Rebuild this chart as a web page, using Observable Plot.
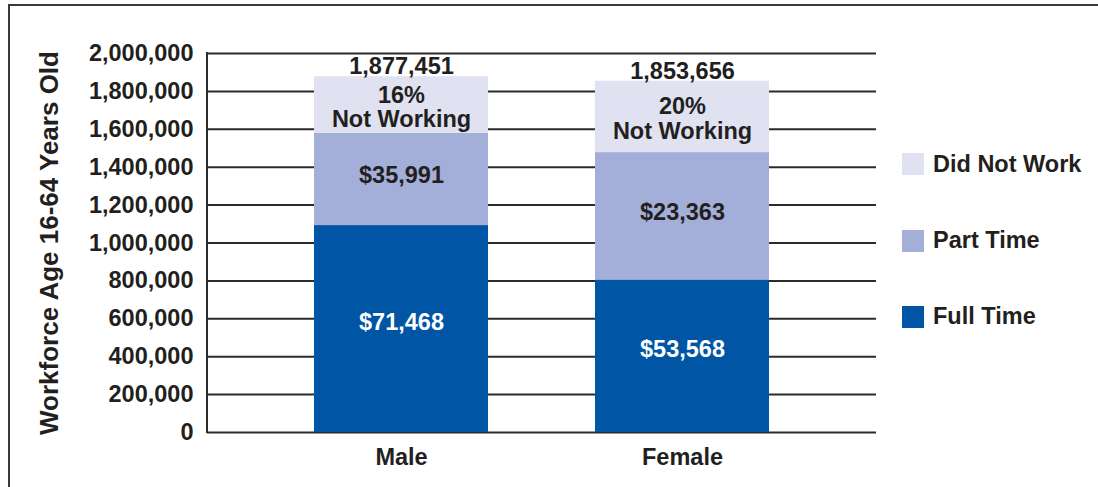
<!DOCTYPE html>
<html>
<head>
<meta charset="utf-8">
<script src="https://cdn.jsdelivr.net/npm/d3@7"></script>
<script src="https://cdn.jsdelivr.net/npm/@observablehq/plot@0.6"></script>
<style>
  html, body { margin: 0; padding: 0; background: #fff; }
  #wrap { position: relative; width: 1098px; height: 487px; overflow: hidden; font-family: "Liberation Sans", Arial, sans-serif; }
  #chart { position: absolute; left: 0; top: 0; }
  #frame { position: absolute; left: 8px; top: 4px; right: -10px; bottom: -10px; border-top: 2px solid #3a3a3a; border-left: 2px solid #3a3a3a; pointer-events: none; }
  .leg { position: absolute; left: 902px; height: 22px; display: flex; align-items: center; font-weight: bold; font-size: 23.5px; color: #231f20; white-space: nowrap; }
  .leg .sw { width: 22px; height: 22px; margin-right: 9px; }
</style>
</head>
<body>
<div id="wrap">
  <div id="chart"></div>
  <div id="frame"></div>
</div>
<script>
// ---- data ----
const categories = ["Male", "Female"];
const series = ["Full Time", "Part Time", "Did Not Work"];
const fullTime = [1092000, 805000];
const partTime = [487000, 672000];
const didNotWork = [298451, 376656];
const totals = [1877451, 1853656];
const pctNotWorking = ["16%", "20%"];
const earningsFull = ["$71,468", "$53,568"];
const earningsPart = ["$35,991", "$23,363"];
const yTicks = [0, 200000, 400000, 600000, 800000, 1000000, 1200000, 1400000, 1600000, 1800000, 2000000];
const colors = ["#0055A4", "#A3AFD8", "#E0E2F2"];
const yTitle = "Workforce Age 16-64 Years Old";

// ---- derived tables ----
const seriesValues = [fullTime, partTime, didNotWork];
const rows = [];
categories.forEach((c, i) => series.forEach((s, j) => rows.push({cat: c, series: s, value: seriesValues[j][i]})));
const labelRows = categories.map((c, i) => ({
  cat: c,
  total: totals[i],
  fullMid: fullTime[i] / 2,
  partMid: fullTime[i] + partTime[i] / 2,
  dnwMid: fullTime[i] + partTime[i] + didNotWork[i] / 2,
  full: earningsFull[i],
  part: earningsPart[i],
  dnw: pctNotWorking[i] + "\nNot Working"
}));

const font = "'Liberation Sans', Arial, sans-serif";
const dark = "#231f20";
const fs = 23.5;

const axisLine = (index, scales, values, dimensions) => {
  const line = document.createElementNS("http://www.w3.org/2000/svg", "line");
  const x = dimensions.marginLeft;
  line.setAttribute("x1", x); line.setAttribute("x2", x);
  line.setAttribute("y1", scales.y(yTicks[yTicks.length - 1]) - 1);
  line.setAttribute("y2", scales.y(0) + 1);
  line.setAttribute("stroke", "#2b2b2b");
  line.setAttribute("stroke-width", 2);
  return line;
};

const plot = Plot.plot({
  width: 1098,
  height: 487,
  marginLeft: 207,
  marginRight: 222,
  marginTop: 53,
  marginBottom: 55,
  style: {fontFamily: font, fontSize: fs + "px", fontWeight: "bold", color: dark, background: "transparent"},
  x: {domain: categories, padding: 0.38, label: null},
  y: {domain: [0, 2000000], label: null},
  color: {domain: series, range: colors},
  marks: [
    Plot.ruleY(yTicks, {stroke: "#2b2b2b", strokeWidth: 2}),
    Plot.barY(rows, {x: "cat", y: "value", fill: "series", order: null}),
    Plot.axisY({ticks: yTicks, tickFormat: d3.format(","), tickSize: 0, tickPadding: 14, fontSize: fs, fontWeight: "bold", label: null}),
    Plot.axisX({tickSize: 0, tickPadding: 16, fontSize: fs, fontWeight: "bold", label: null}),
    axisLine,
    Plot.text(labelRows, {x: "cat", y: "total", text: d => d3.format(",")(d.total), dy: -10, lineAnchor: "middle", fontSize: fs, fontWeight: "bold", fill: dark}),
    Plot.text(labelRows, {x: "cat", y: "dnwMid", text: "dnw", dy: 2, lineAnchor: "middle", lineHeight: 1.05, fontSize: fs, fontWeight: "bold", fill: dark}),
    Plot.text(labelRows, {x: "cat", y: "partMid", text: "part", dy: -4, lineAnchor: "middle", fontSize: fs, fontWeight: "bold", fill: dark}),
    Plot.text(labelRows, {x: "cat", y: "fullMid", text: "full", dy: -7, lineAnchor: "middle", fontSize: fs, fontWeight: "bold", fill: "#ffffff"}),
    Plot.text([yTitle], {frameAnchor: "left", dx: -158, rotate: -90, textAnchor: "middle", lineAnchor: "middle", fontSize: 26, fontWeight: "bold", fill: dark})
  ]
});
document.getElementById("chart").appendChild(plot);

// legend (top to bottom: reverse stacking order)
const legendCenters = [316.5, 240.5, 164];
const wrap = document.getElementById("wrap");
series.forEach((s, j) => {
  const d = document.createElement("div");
  d.className = "leg";
  d.style.top = (legendCenters[j] - 11) + "px";
  const sw = document.createElement("div");
  sw.className = "sw";
  sw.style.background = colors[j];
  const t = document.createElement("span");
  t.textContent = s;
  d.appendChild(sw); d.appendChild(t);
  wrap.appendChild(d);
});
</script>
</body>
</html>
